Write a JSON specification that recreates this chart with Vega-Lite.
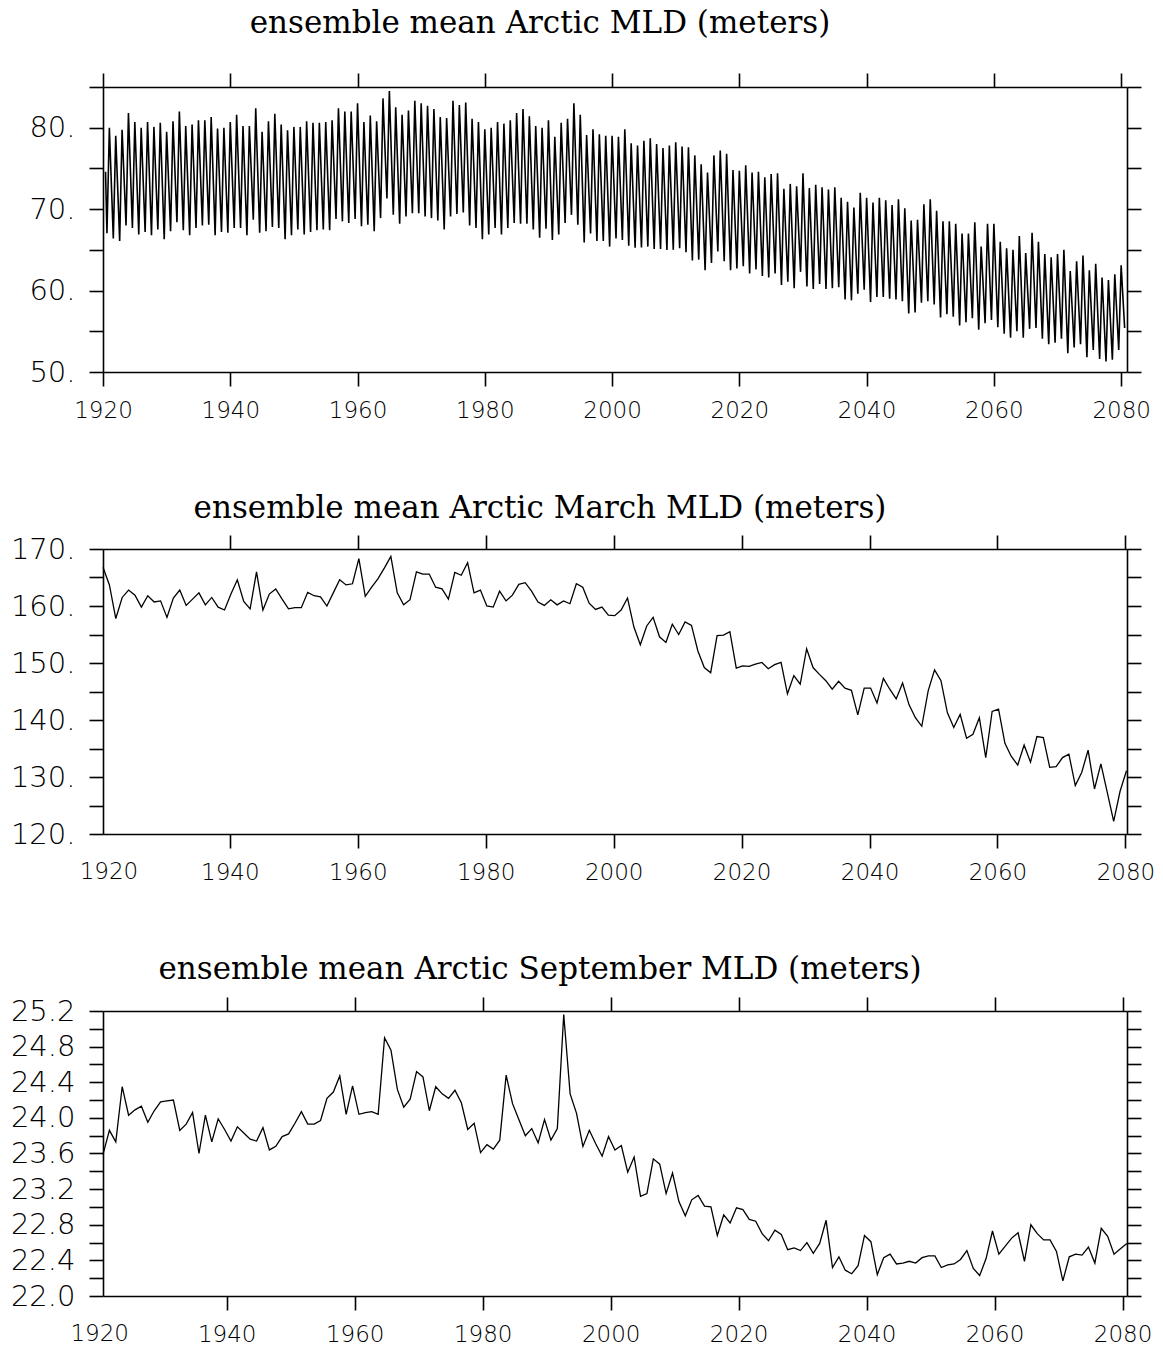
{
 "$schema": "https://vega.github.io/schema/vega-lite/v6.json",
 "padding": {"left": 10, "top": 8, "right": 5, "bottom": 5},
 "background": "white",
 "spacing": 177,
 "bounds": "flush",
 "config": {
  "view": {"stroke": null},
  "axis": {"domainColor": "black", "domainWidth": 1.6, "tickColor": "black", "tickWidth": 1.6, "tickSize": 14, "labelColor": "black", "labelFont": "DejaVu Sans", "labelFontWeight": 200, "grid": false, "labelFlush": false, "labelOverlap": false, "labelBound": false},
  "axisX": {"labelFontSize": 23, "labelPadding": 13},
  "axisY": {"labelFontSize": 29, "labelPadding": 14},
  "title": {"font": "DejaVu Serif", "fontSize": 31, "fontWeight": "normal", "color": "black", "anchor": "middle", "dx": -75, "baseline": "bottom"},
  "line": {"color": "black", "strokeWidth": 1.3},
  "text": {"font": "DejaVu Sans", "fontWeight": 200, "fontSize": 23, "color": "black", "align": "center", "baseline": "top"}
 },
 "datasets": {
  "all": [
{"t":1920.4,"v":74.6},{"t":1920.62,"v":67.05},{"t":1921,"v":80.0},{"t":1921.62,"v":66.4},{"t":1922,"v":79.0},{"t":1922.62,"v":66.1},{"t":1923,"v":79.75},{"t":1923.62,"v":68.0},{"t":1924,"v":81.8},{"t":1924.62,"v":67.7},{"t":1925,"v":80.7},{"t":1925.62,"v":66.9},{"t":1926,"v":80.0},{"t":1926.62,"v":67.2},{"t":1927,"v":80.7},{"t":1927.62,"v":66.8},{"t":1928,"v":80.1},{"t":1928.62,"v":67.5},{"t":1929,"v":80.6},{"t":1929.62,"v":66.3},{"t":1930,"v":79.5},{"t":1930.62,"v":67.3},{"t":1931,"v":80.8},{"t":1931.62,"v":68.4},{"t":1932,"v":82.0},{"t":1932.62,"v":67.4},{"t":1933,"v":80.2},{"t":1933.62,"v":66.8},{"t":1934,"v":80.4},{"t":1934.62,"v":67.7},{"t":1935,"v":80.9},{"t":1935.62,"v":68.0},{"t":1936,"v":80.9},{"t":1936.62,"v":68.1},{"t":1937,"v":81.3},{"t":1937.62,"v":66.8},{"t":1938,"v":79.9},{"t":1938.62,"v":67.2},{"t":1939,"v":80.0},{"t":1939.62,"v":67.1},{"t":1940,"v":80.7},{"t":1940.62,"v":67.7},{"t":1941,"v":81.6},{"t":1941.62,"v":67.7},{"t":1942,"v":80.2},{"t":1942.62,"v":66.8},{"t":1943,"v":80.2},{"t":1943.62,"v":68.7},{"t":1944,"v":82.4},{"t":1944.62,"v":67.1},{"t":1945,"v":79.5},{"t":1945.62,"v":67.3},{"t":1946,"v":80.8},{"t":1946.62,"v":67.8},{"t":1947,"v":81.7},{"t":1947.62,"v":67.7},{"t":1948,"v":80.4},{"t":1948.62,"v":66.3},{"t":1949,"v":79.7},{"t":1949.62,"v":66.8},{"t":1950,"v":80.1},{"t":1950.62,"v":67.5},{"t":1951,"v":80.1},{"t":1951.62,"v":66.9},{"t":1952,"v":80.8},{"t":1952.62,"v":67.2},{"t":1953,"v":80.6},{"t":1953.62,"v":67.4},{"t":1954,"v":80.6},{"t":1954.62,"v":67.5},{"t":1955,"v":80.7},{"t":1955.62,"v":67.4},{"t":1956,"v":80.9},{"t":1956.62,"v":68.8},{"t":1957,"v":82.4},{"t":1957.62,"v":68.5},{"t":1958,"v":82.0},{"t":1958.62,"v":68.3},{"t":1959,"v":82.0},{"t":1959.62,"v":68.8},{"t":1960,"v":83.0},{"t":1960.62,"v":67.9},{"t":1961,"v":80.7},{"t":1961.62,"v":68.1},{"t":1962,"v":81.5},{"t":1962.62,"v":67.3},{"t":1963,"v":80.8},{"t":1963.62,"v":68.9},{"t":1964,"v":83.6},{"t":1964.62,"v":71.3},{"t":1965,"v":84.5},{"t":1965.62,"v":69.3},{"t":1966,"v":82.5},{"t":1966.62,"v":68.2},{"t":1967,"v":81.6},{"t":1967.62,"v":69.1},{"t":1968,"v":82.1},{"t":1968.62,"v":69.5},{"t":1969,"v":83.3},{"t":1969.62,"v":69.5},{"t":1970,"v":83.0},{"t":1970.62,"v":69.1},{"t":1971,"v":82.7},{"t":1971.62,"v":68.9},{"t":1972,"v":82.3},{"t":1972.62,"v":68.6},{"t":1973,"v":81.3},{"t":1973.62,"v":67.5},{"t":1974,"v":81.2},{"t":1974.62,"v":69.1},{"t":1975,"v":83.3},{"t":1975.62,"v":69.4},{"t":1976,"v":82.8},{"t":1976.62,"v":69.6},{"t":1977,"v":83.1},{"t":1977.62,"v":68.0},{"t":1978,"v":81.1},{"t":1978.62,"v":67.7},{"t":1979,"v":80.7},{"t":1979.62,"v":66.3},{"t":1980,"v":79.8},{"t":1980.62,"v":66.9},{"t":1981,"v":80.0},{"t":1981.62,"v":67.7},{"t":1982,"v":80.7},{"t":1982.62,"v":66.9},{"t":1983,"v":80.5},{"t":1983.62,"v":67.7},{"t":1984,"v":80.9},{"t":1984.62,"v":68.3},{"t":1985,"v":81.8},{"t":1985.62,"v":68.2},{"t":1986,"v":82.3},{"t":1986.62,"v":68.2},{"t":1987,"v":81.4},{"t":1987.62,"v":67.5},{"t":1988,"v":80.2},{"t":1988.62,"v":66.5},{"t":1989,"v":80.0},{"t":1989.62,"v":67.6},{"t":1990,"v":80.9},{"t":1990.62,"v":66.2},{"t":1991,"v":78.9},{"t":1991.62,"v":66.9},{"t":1992,"v":80.6},{"t":1992.62,"v":68.3},{"t":1993,"v":81.1},{"t":1993.62,"v":69.3},{"t":1994,"v":83.0},{"t":1994.62,"v":68.1},{"t":1995,"v":81.6},{"t":1995.62,"v":65.9},{"t":1996,"v":79.1},{"t":1996.62,"v":67.0},{"t":1997,"v":79.8},{"t":1997.62,"v":66.1},{"t":1998,"v":79.2},{"t":1998.62,"v":66.1},{"t":1999,"v":79.0},{"t":1999.62,"v":65.4},{"t":2000,"v":79.0},{"t":2000.62,"v":66.4},{"t":2001,"v":78.9},{"t":2001.62,"v":66.2},{"t":2002,"v":79.8},{"t":2002.62,"v":65.5},{"t":2003,"v":78.1},{"t":2003.62,"v":65.25},{"t":2004,"v":77.8},{"t":2004.62,"v":65.3},{"t":2005,"v":78.4},{"t":2005.62,"v":65.4},{"t":2006,"v":78.7},{"t":2006.62,"v":65.1},{"t":2007,"v":78.0},{"t":2007.62,"v":65.1},{"t":2008,"v":77.5},{"t":2008.62,"v":65.0},{"t":2009,"v":77.8},{"t":2009.62,"v":65.0},{"t":2010,"v":78.2},{"t":2010.62,"v":65.2},{"t":2011,"v":77.7},{"t":2011.62,"v":64.7},{"t":2012,"v":77.6},{"t":2012.62,"v":63.7},{"t":2013,"v":76.6},{"t":2013.62,"v":63.8},{"t":2014,"v":75.5},{"t":2014.62,"v":62.5},{"t":2015,"v":74.5},{"t":2015.62,"v":63.4},{"t":2016,"v":76.6},{"t":2016.62,"v":64.8},{"t":2017,"v":77.2},{"t":2017.62,"v":63.6},{"t":2018,"v":76.8},{"t":2018.62,"v":62.5},{"t":2019,"v":74.8},{"t":2019.62,"v":62.7},{"t":2020,"v":74.7},{"t":2020.62,"v":63.0},{"t":2021,"v":75.4},{"t":2021.62,"v":62.1},{"t":2022,"v":74.5},{"t":2022.62,"v":62.6},{"t":2023,"v":74.6},{"t":2023.62,"v":61.8},{"t":2024,"v":73.9},{"t":2024.62,"v":61.6},{"t":2025,"v":74.3},{"t":2025.62,"v":62.1},{"t":2026,"v":74.4},{"t":2026.62,"v":60.7},{"t":2027,"v":72.5},{"t":2027.62,"v":61.1},{"t":2028,"v":73.1},{"t":2028.62,"v":60.3},{"t":2029,"v":72.8},{"t":2029.62,"v":62.3},{"t":2030,"v":74.4},{"t":2030.62,"v":60.5},{"t":2031,"v":72.6},{"t":2031.62,"v":60.2},{"t":2032,"v":73.0},{"t":2032.62,"v":60.8},{"t":2033,"v":72.7},{"t":2033.62,"v":60.2},{"t":2034,"v":72.4},{"t":2034.62,"v":60.3},{"t":2035,"v":72.7},{"t":2035.62,"v":60.4},{"t":2036,"v":71.4},{"t":2036.62,"v":58.9},{"t":2037,"v":70.9},{"t":2037.62,"v":58.8},{"t":2038,"v":70.2},{"t":2038.62,"v":59.6},{"t":2039,"v":72.0},{"t":2039.62,"v":60.1},{"t":2040,"v":71.4},{"t":2040.62,"v":58.6},{"t":2041,"v":70.8},{"t":2041.62,"v":59.2},{"t":2042,"v":71.4},{"t":2042.62,"v":59.2},{"t":2043,"v":71.1},{"t":2043.62,"v":59.0},{"t":2044,"v":70.5},{"t":2044.62,"v":58.9},{"t":2045,"v":71.2},{"t":2045.62,"v":58.7},{"t":2046,"v":70.1},{"t":2046.62,"v":57.2},{"t":2047,"v":68.6},{"t":2047.62,"v":57.3},{"t":2048,"v":68.7},{"t":2048.62,"v":58.5},{"t":2049,"v":70.6},{"t":2049.62,"v":58.7},{"t":2050,"v":71.2},{"t":2050.62,"v":58.3},{"t":2051,"v":69.8},{"t":2051.62,"v":56.7},{"t":2052,"v":68.5},{"t":2052.62,"v":57.1},{"t":2053,"v":68.5},{"t":2053.62,"v":56.8},{"t":2054,"v":68.2},{"t":2054.62,"v":55.7},{"t":2055,"v":67.0},{"t":2055.62,"v":56.1},{"t":2056,"v":67.0},{"t":2056.62,"v":56.6},{"t":2057,"v":68.4},{"t":2057.62,"v":55.2},{"t":2058,"v":65.4},{"t":2058.62,"v":56.0},{"t":2059,"v":68.2},{"t":2059.62,"v":56.4},{"t":2060,"v":68.2},{"t":2060.62,"v":55.5},{"t":2061,"v":66.0},{"t":2061.62,"v":54.7},{"t":2062,"v":65.2},{"t":2062.62,"v":54.2},{"t":2063,"v":65.0},{"t":2063.62,"v":55.0},{"t":2064,"v":66.7},{"t":2064.62,"v":54.2},{"t":2065,"v":64.6},{"t":2065.62,"v":55.3},{"t":2066,"v":67.1},{"t":2066.62,"v":55.4},{"t":2067,"v":66.0},{"t":2067.62,"v":54.1},{"t":2068,"v":64.5},{"t":2068.62,"v":53.4},{"t":2069,"v":64.1},{"t":2069.62,"v":53.6},{"t":2070,"v":64.5},{"t":2070.62,"v":54.1},{"t":2071,"v":65.0},{"t":2071.62,"v":52.3},{"t":2072,"v":62.4},{"t":2072.62,"v":53.0},{"t":2073,"v":63.6},{"t":2073.62,"v":53.4},{"t":2074,"v":64.3},{"t":2074.62,"v":51.8},{"t":2075,"v":62.5},{"t":2075.62,"v":52.7},{"t":2076,"v":63.3},{"t":2076.62,"v":51.6},{"t":2077,"v":61.6},{"t":2077.62,"v":51.3},{"t":2078,"v":61.3},{"t":2078.62,"v":51.5},{"t":2079,"v":62.0},{"t":2079.62,"v":52.7},{"t":2080,"v":63.1},{"t":2080.55,"v":55.4}
  ],
  "mar": [
{"t":1920.167,"v":166.8},{"t":1921.167,"v":163.7},{"t":1922.167,"v":157.8},{"t":1923.167,"v":161.5},{"t":1924.167,"v":162.8},{"t":1925.167,"v":161.9},{"t":1926.167,"v":159.8},{"t":1927.167,"v":161.8},{"t":1928.167,"v":160.7},{"t":1929.167,"v":160.9},{"t":1930.167,"v":158.0},{"t":1931.167,"v":161.4},{"t":1932.167,"v":162.8},{"t":1933.167,"v":160.1},{"t":1934.167,"v":161.2},{"t":1935.167,"v":162.3},{"t":1936.167,"v":160.2},{"t":1937.167,"v":161.5},{"t":1938.167,"v":159.8},{"t":1939.167,"v":159.3},{"t":1940.167,"v":162.1},{"t":1941.167,"v":164.6},{"t":1942.167,"v":160.8},{"t":1943.167,"v":159.5},{"t":1944.167,"v":166.0},{"t":1945.167,"v":159.3},{"t":1946.167,"v":162.1},{"t":1947.167,"v":163.0},{"t":1948.167,"v":161.2},{"t":1949.167,"v":159.5},{"t":1950.167,"v":159.7},{"t":1951.167,"v":159.7},{"t":1952.167,"v":162.4},{"t":1953.167,"v":161.8},{"t":1954.167,"v":161.6},{"t":1955.167,"v":160.0},{"t":1956.167,"v":162.3},{"t":1957.167,"v":164.6},{"t":1958.167,"v":163.7},{"t":1959.167,"v":163.9},{"t":1960.167,"v":168.3},{"t":1961.167,"v":161.7},{"t":1962.167,"v":163.3},{"t":1963.167,"v":164.8},{"t":1964.167,"v":166.7},{"t":1965.167,"v":168.7},{"t":1966.167,"v":162.3},{"t":1967.167,"v":160.2},{"t":1968.167,"v":161.1},{"t":1969.167,"v":166.0},{"t":1970.167,"v":165.6},{"t":1971.167,"v":165.6},{"t":1972.167,"v":163.3},{"t":1973.167,"v":163.0},{"t":1974.167,"v":161.2},{"t":1975.167,"v":165.9},{"t":1976.167,"v":165.4},{"t":1977.167,"v":167.6},{"t":1978.167,"v":162.3},{"t":1979.167,"v":162.8},{"t":1980.167,"v":160.0},{"t":1981.167,"v":159.8},{"t":1982.167,"v":162.6},{"t":1983.167,"v":160.9},{"t":1984.167,"v":161.9},{"t":1985.167,"v":163.8},{"t":1986.167,"v":164.1},{"t":1987.167,"v":162.6},{"t":1988.167,"v":160.7},{"t":1989.167,"v":160.1},{"t":1990.167,"v":161.1},{"t":1991.167,"v":160.2},{"t":1992.167,"v":160.9},{"t":1993.167,"v":160.4},{"t":1994.167,"v":163.9},{"t":1995.167,"v":163.3},{"t":1996.167,"v":160.5},{"t":1997.167,"v":159.4},{"t":1998.167,"v":159.8},{"t":1999.167,"v":158.4},{"t":2000.167,"v":158.3},{"t":2001.167,"v":159.3},{"t":2002.167,"v":161.4},{"t":2003.167,"v":156.3},{"t":2004.167,"v":153.2},{"t":2005.167,"v":156.5},{"t":2006.167,"v":158.0},{"t":2007.167,"v":154.6},{"t":2008.167,"v":153.6},{"t":2009.167,"v":156.8},{"t":2010.167,"v":155.0},{"t":2011.167,"v":157.2},{"t":2012.167,"v":156.6},{"t":2013.167,"v":152.1},{"t":2014.167,"v":149.2},{"t":2015.167,"v":148.3},{"t":2016.167,"v":154.8},{"t":2017.167,"v":154.9},{"t":2018.167,"v":155.5},{"t":2019.167,"v":149.1},{"t":2020.167,"v":149.5},{"t":2021.167,"v":149.4},{"t":2022.167,"v":149.8},{"t":2023.167,"v":150.1},{"t":2024.167,"v":149.0},{"t":2025.167,"v":149.7},{"t":2026.167,"v":150.1},{"t":2027.167,"v":144.6},{"t":2028.167,"v":147.8},{"t":2029.167,"v":146.3},{"t":2030.167,"v":152.5},{"t":2031.167,"v":149.2},{"t":2032.167,"v":148.0},{"t":2033.167,"v":146.9},{"t":2034.167,"v":145.4},{"t":2035.167,"v":146.8},{"t":2036.167,"v":145.6},{"t":2037.167,"v":145.2},{"t":2038.167,"v":140.9},{"t":2039.167,"v":145.6},{"t":2040.167,"v":145.6},{"t":2041.167,"v":143.0},{"t":2042.167,"v":147.3},{"t":2043.167,"v":145.4},{"t":2044.167,"v":143.7},{"t":2045.167,"v":146.5},{"t":2046.167,"v":142.7},{"t":2047.167,"v":140.4},{"t":2048.167,"v":138.9},{"t":2049.167,"v":145.1},{"t":2050.167,"v":148.8},{"t":2051.167,"v":146.9},{"t":2052.167,"v":141.3},{"t":2053.167,"v":138.7},{"t":2054.167,"v":141.0},{"t":2055.167,"v":136.8},{"t":2056.167,"v":137.5},{"t":2057.167,"v":140.4},{"t":2058.167,"v":133.4},{"t":2059.167,"v":141.5},{"t":2060.167,"v":141.9},{"t":2061.167,"v":135.9},{"t":2062.167,"v":133.6},{"t":2063.167,"v":132.1},{"t":2064.167,"v":135.6},{"t":2065.167,"v":132.6},{"t":2066.167,"v":137.1},{"t":2067.167,"v":136.9},{"t":2068.167,"v":131.7},{"t":2069.167,"v":131.8},{"t":2070.167,"v":133.4},{"t":2071.167,"v":134.0},{"t":2072.167,"v":128.5},{"t":2073.167,"v":130.8},{"t":2074.167,"v":134.7},{"t":2075.167,"v":127.9},{"t":2076.167,"v":132.3},{"t":2077.167,"v":127.3},{"t":2078.167,"v":122.2},{"t":2079.167,"v":127.5},{"t":2080.167,"v":131.1}
  ],
  "sep": [
{"t":1920.667,"v":23.59},{"t":1921.667,"v":23.86},{"t":1922.667,"v":23.73},{"t":1923.667,"v":24.35},{"t":1924.667,"v":24.03},{"t":1925.667,"v":24.09},{"t":1926.667,"v":24.13},{"t":1927.667,"v":23.95},{"t":1928.667,"v":24.08},{"t":1929.667,"v":24.18},{"t":1930.667,"v":24.19},{"t":1931.667,"v":24.2},{"t":1932.667,"v":23.86},{"t":1933.667,"v":23.93},{"t":1934.667,"v":24.06},{"t":1935.667,"v":23.6},{"t":1936.667,"v":24.03},{"t":1937.667,"v":23.73},{"t":1938.667,"v":23.99},{"t":1939.667,"v":23.87},{"t":1940.667,"v":23.74},{"t":1941.667,"v":23.9},{"t":1942.667,"v":23.83},{"t":1943.667,"v":23.76},{"t":1944.667,"v":23.74},{"t":1945.667,"v":23.89},{"t":1946.667,"v":23.64},{"t":1947.667,"v":23.68},{"t":1948.667,"v":23.79},{"t":1949.667,"v":23.82},{"t":1950.667,"v":23.94},{"t":1951.667,"v":24.07},{"t":1952.667,"v":23.93},{"t":1953.667,"v":23.93},{"t":1954.667,"v":23.97},{"t":1955.667,"v":24.22},{"t":1956.667,"v":24.29},{"t":1957.667,"v":24.47},{"t":1958.667,"v":24.04},{"t":1959.667,"v":24.36},{"t":1960.667,"v":24.04},{"t":1961.667,"v":24.06},{"t":1962.667,"v":24.07},{"t":1963.667,"v":24.04},{"t":1964.667,"v":24.9},{"t":1965.667,"v":24.76},{"t":1966.667,"v":24.32},{"t":1967.667,"v":24.12},{"t":1968.667,"v":24.21},{"t":1969.667,"v":24.52},{"t":1970.667,"v":24.46},{"t":1971.667,"v":24.08},{"t":1972.667,"v":24.35},{"t":1973.667,"v":24.27},{"t":1974.667,"v":24.22},{"t":1975.667,"v":24.31},{"t":1976.667,"v":24.17},{"t":1977.667,"v":23.87},{"t":1978.667,"v":23.94},{"t":1979.667,"v":23.61},{"t":1980.667,"v":23.7},{"t":1981.667,"v":23.65},{"t":1982.667,"v":23.75},{"t":1983.667,"v":24.48},{"t":1984.667,"v":24.16},{"t":1985.667,"v":23.98},{"t":1986.667,"v":23.8},{"t":1987.667,"v":23.88},{"t":1988.667,"v":23.72},{"t":1989.667,"v":23.98},{"t":1990.667,"v":23.75},{"t":1991.667,"v":23.88},{"t":1992.667,"v":25.16},{"t":1993.667,"v":24.27},{"t":1994.667,"v":24.05},{"t":1995.667,"v":23.68},{"t":1996.667,"v":23.86},{"t":1997.667,"v":23.71},{"t":1998.667,"v":23.57},{"t":1999.667,"v":23.79},{"t":2000.667,"v":23.64},{"t":2001.667,"v":23.69},{"t":2002.667,"v":23.39},{"t":2003.667,"v":23.56},{"t":2004.667,"v":23.12},{"t":2005.667,"v":23.15},{"t":2006.667,"v":23.54},{"t":2007.667,"v":23.48},{"t":2008.667,"v":23.15},{"t":2009.667,"v":23.38},{"t":2010.667,"v":23.06},{"t":2011.667,"v":22.9},{"t":2012.667,"v":23.08},{"t":2013.667,"v":23.13},{"t":2014.667,"v":23.01},{"t":2015.667,"v":23.0},{"t":2016.667,"v":22.68},{"t":2017.667,"v":22.91},{"t":2018.667,"v":22.82},{"t":2019.667,"v":22.99},{"t":2020.667,"v":22.97},{"t":2021.667,"v":22.86},{"t":2022.667,"v":22.84},{"t":2023.667,"v":22.7},{"t":2024.667,"v":22.62},{"t":2025.667,"v":22.74},{"t":2026.667,"v":22.69},{"t":2027.667,"v":22.52},{"t":2028.667,"v":22.54},{"t":2029.667,"v":22.51},{"t":2030.667,"v":22.6},{"t":2031.667,"v":22.48},{"t":2032.667,"v":22.59},{"t":2033.667,"v":22.85},{"t":2034.667,"v":22.32},{"t":2035.667,"v":22.44},{"t":2036.667,"v":22.29},{"t":2037.667,"v":22.25},{"t":2038.667,"v":22.34},{"t":2039.667,"v":22.68},{"t":2040.667,"v":22.61},{"t":2041.667,"v":22.24},{"t":2042.667,"v":22.43},{"t":2043.667,"v":22.47},{"t":2044.667,"v":22.36},{"t":2045.667,"v":22.37},{"t":2046.667,"v":22.39},{"t":2047.667,"v":22.37},{"t":2048.667,"v":22.43},{"t":2049.667,"v":22.45},{"t":2050.667,"v":22.45},{"t":2051.667,"v":22.32},{"t":2052.667,"v":22.35},{"t":2053.667,"v":22.36},{"t":2054.667,"v":22.41},{"t":2055.667,"v":22.51},{"t":2056.667,"v":22.31},{"t":2057.667,"v":22.23},{"t":2058.667,"v":22.42},{"t":2059.667,"v":22.73},{"t":2060.667,"v":22.47},{"t":2061.667,"v":22.56},{"t":2062.667,"v":22.65},{"t":2063.667,"v":22.71},{"t":2064.667,"v":22.39},{"t":2065.667,"v":22.8},{"t":2066.667,"v":22.7},{"t":2067.667,"v":22.63},{"t":2068.667,"v":22.63},{"t":2069.667,"v":22.5},{"t":2070.667,"v":22.17},{"t":2071.667,"v":22.44},{"t":2072.667,"v":22.47},{"t":2073.667,"v":22.46},{"t":2074.667,"v":22.55},{"t":2075.667,"v":22.37},{"t":2076.667,"v":22.76},{"t":2077.667,"v":22.67},{"t":2078.667,"v":22.47},{"t":2079.667,"v":22.53},{"t":2080.667,"v":22.59}
  ],
  "lab1920": [{"t": 1920, "label": "1920"}]
 },
 "vconcat": [
  {
   "title": {"text": "ensemble mean Arctic MLD (meters)", "offset": 32},
   "width": 1024, "height": 285,
   "data": {"name": "all"},
   "layer": [
    {"mark": {"type": "line", "strokeWidth": 1.6},
     "encoding": {
      "x": {"field": "t", "type": "quantitative", "scale": {"domain": [1920, 2080.92], "nice": false, "zero": false}, "axis": {"orient": "bottom", "title": null, "values": [1920,1940,1960,1980,2000,2020,2040,2060,2080], "format": "d", "encode": {"labels": {"update": {"dx": {"signal": "datum.value === 1920 ? 5 : (datum.value === 2080 ? -8 : 0)"}}}}}},
      "y": {"field": "v", "type": "quantitative", "scale": {"domain": [50, 85], "nice": false, "zero": false}, "axis": {"orient": "left", "title": null, "values": [50,55,60,65,70,75,80,85], "labelExpr": "datum.value % 10 === 0 ? format(datum.value, 'd') + '.' : ''"}}
     }},
    {"mark": {"type": "line", "opacity": 0},
     "encoding": {
      "x": {"field": "t", "type": "quantitative", "axis": {"orient": "top", "title": null, "values": [1920,1940,1960,1980,2000,2020,2040,2060,2080], "labels": false}},
      "y": {"field": "v", "type": "quantitative", "axis": {"orient": "right", "title": null, "values": [50,55,60,65,70,75,80,85], "labels": false}}
     }}
   ],
   "resolve": {"axis": {"x": "independent", "y": "independent"}}
  },
  {
   "title": {"text": "ensemble mean Arctic March MLD (meters)", "offset": 9},
   "width": 1024, "height": 285,
   "layer": [
    {"data": {"name": "mar"},
     "mark": {"type": "line"},
     "encoding": {
      "x": {"field": "t", "type": "quantitative", "scale": {"domain": [1920.167, 2080.25], "nice": false, "zero": false}, "axis": {"orient": "bottom", "title": null, "values": [1920,1940,1960,1980,2000,2020,2040,2060,2080], "format": "d", "encode": {"labels": {"update": {"dx": {"signal": "datum.value === 2080 ? -10 : 0"}}}}}},
      "y": {"field": "v", "type": "quantitative", "scale": {"domain": [120, 170], "nice": false, "zero": false}, "axis": {"orient": "left", "title": null, "values": [120,125,130,135,140,145,150,155,160,165,170], "labelExpr": "datum.value % 10 === 0 ? format(datum.value, 'd') + '.' : ''"}}
     }},
    {"data": {"name": "mar"},
     "mark": {"type": "line", "opacity": 0},
     "encoding": {
      "x": {"field": "t", "type": "quantitative", "axis": {"orient": "top", "title": null, "values": [1920,1940,1960,1980,2000,2020,2040,2060,2080], "labels": false}},
      "y": {"field": "v", "type": "quantitative", "axis": {"orient": "right", "title": null, "values": [120,125,130,135,140,145,150,155,160,165,170], "labels": false}}
     }},
    {"data": {"name": "lab1920"},
     "mark": {"type": "text", "dx": 7, "dy": 27},
     "encoding": {
      "x": {"field": "t", "type": "quantitative", "axis": null},
      "y": {"datum": 120, "type": "quantitative", "axis": null},
      "text": {"field": "label"}
     }}
   ],
   "resolve": {"axis": {"x": "independent", "y": "independent"}}
  },
  {
   "title": {"text": "ensemble mean Arctic September MLD (meters)", "offset": 10},
   "width": 1024, "height": 285,
   "layer": [
    {"data": {"name": "sep"},
     "mark": {"type": "line"},
     "encoding": {
      "x": {"field": "t", "type": "quantitative", "scale": {"domain": [1920.667, 2080.69], "nice": false, "zero": false}, "axis": {"orient": "bottom", "title": null, "values": [1920,1940,1960,1980,2000,2020,2040,2060,2080], "format": "d", "encode": {"labels": {"update": {"dx": {"signal": "datum.value === 2080 ? -10 : 0"}}}}}},
      "y": {"field": "v", "type": "quantitative", "scale": {"domain": [22, 25.2], "nice": false, "zero": false}, "axis": {"orient": "left", "title": null, "values": [22,22.2,22.4,22.6,22.8,23,23.2,23.4,23.6,23.8,24,24.2,24.4,24.6,24.8,25,25.2], "labelExpr": "round(datum.value * 10) % 4 === 0 ? format(datum.value, '.1f') : ''"}}
     }},
    {"data": {"name": "sep"},
     "mark": {"type": "line", "opacity": 0},
     "encoding": {
      "x": {"field": "t", "type": "quantitative", "axis": {"orient": "top", "title": null, "values": [1920,1940,1960,1980,2000,2020,2040,2060,2080], "labels": false}},
      "y": {"field": "v", "type": "quantitative", "axis": {"orient": "right", "title": null, "values": [22,22.2,22.4,22.6,22.8,23,23.2,23.4,23.6,23.8,24,24.2,24.4,24.6,24.8,25,25.2], "labels": false}}
     }},
    {"data": {"name": "lab1920"},
     "mark": {"type": "text", "dx": 1, "dy": 27},
     "encoding": {
      "x": {"field": "t", "type": "quantitative", "axis": null},
      "y": {"datum": 22, "type": "quantitative", "axis": null},
      "text": {"field": "label"}
     }}
   ],
   "resolve": {"axis": {"x": "independent", "y": "independent"}}
  }
 ]
}
